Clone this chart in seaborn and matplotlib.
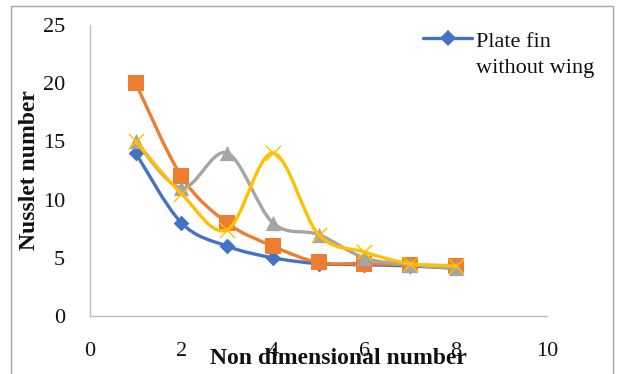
import numpy as np
import pandas as pd
import seaborn as sns
import matplotlib
matplotlib.use("Agg")
import matplotlib.pyplot as plt
from matplotlib.path import Path
from matplotlib.patches import PathPatch, Rectangle
from matplotlib.lines import Line2D

# Data
x_vals = [1, 2, 3, 4, 5, 6, 7, 8]
plate_fin_no_wing = [14, 8, 6, 5, 4.5, 4.4, 4.3, 4.1]
series_orange = [20, 12, 8, 6, 4.6, 4.5, 4.4, 4.3]
series_gray = [15, 11, 14, 8, 7, 5, 4.4, 4.1]
series_yellow = [15, 10.5, 7.4, 14, 7, 5.5, 4.5, 4.3]
x_ticks = [0, 2, 4, 6, 8, 10]
y_ticks = [0, 5, 10, 15, 20, 25]
legend_lines = ["Plate fin", "without wing"]

series = [
    (plate_fin_no_wing, "#4472C4", "D", 8),
    (series_orange, "#ED7D31", "s", 11),
    (series_gray, "#A5A5A5", "^", 11),
    (series_yellow, "#FFC000", "x", 11),
]

sns.set_theme(style="white")
plt.rcParams["font.family"] = ["Liberation Serif", "DejaVu Serif"]

W, H = 617, 374
fig = plt.figure(figsize=(W / 100, H / 100), dpi=100)
ax = fig.add_axes([90 / W, 1 - 316 / H, 457 / W, 291 / H])


def smooth_path(xs, ys):
    """Bezier path through the points, Catmull-Rom style tangents."""
    pts = np.column_stack([xs, ys]).astype(float)
    n = len(pts)
    verts = [pts[0]]
    codes = [Path.MOVETO]
    for i in range(n - 1):
        p0 = pts[i - 1] if i > 0 else pts[i]
        p1 = pts[i]
        p2 = pts[i + 1]
        p3 = pts[i + 2] if i + 2 < n else pts[i + 1]
        c1 = p1 + (p2 - p0) / 6.0
        c2 = p2 - (p3 - p1) / 6.0
        verts += [c1, c2, p2]
        codes += [Path.CURVE4] * 3
    return Path(verts, codes)


z = 2
for ys, color, marker, ms in series:
    patch = PathPatch(smooth_path(x_vals, ys), facecolor="none", edgecolor=color,
                      lw=2.4, zorder=z, capstyle="round", joinstyle="round")
    ax.add_patch(patch)
    df = pd.DataFrame({"x": x_vals, "y": ys})
    if marker == "x":
        sns.scatterplot(data=df, x="x", y="y", ax=ax, marker="x", color=color,
                        s=ms ** 2, linewidth=1.0, zorder=z + 0.5, legend=False)
    else:
        sns.scatterplot(data=df, x="x", y="y", ax=ax, marker=marker, color=color,
                        s=ms ** 2, linewidth=0, zorder=z + 0.5, legend=False)
    z += 1

ax.set_xlim(0, 10)
ax.set_ylim(0, 25)
ax.set_xticks(x_ticks)
ax.set_yticks(y_ticks)
ax.tick_params(axis="x", labelsize=16, pad=19, length=0, labelcolor="#111111")
ax.tick_params(axis="y", labelsize=16, pad=18, length=0, labelcolor="#111111")

for side in ["top", "right"]:
    ax.spines[side].set_visible(False)
for side in ["left", "bottom"]:
    ax.spines[side].set_color("#BFBFBF")
    ax.spines[side].set_linewidth(1.0)

ax.set_xlabel("")
ax.set_ylabel("")
fig.text(338 / W, 1 - 358 / H, "Non dimensional number", ha="center", va="center",
         fontsize=17, fontweight="bold", color="#111111")
fig.text(30 / W, 1 - 170 / H, "Nusslet number", ha="center", va="center",
         rotation=90, fontsize=17, fontweight="bold", color="#111111")

# Legend entry for the first series (handle aligned with the first text line)
fig.add_artist(Line2D([423 / W, 472 / W], [1 - 38 / H, 1 - 38 / H],
                      transform=fig.transFigure, color="#4472C4", lw=2.4))
fig.add_artist(Line2D([448 / W], [1 - 38 / H], transform=fig.transFigure,
                      color="#4472C4", marker="D", markersize=8, markeredgewidth=0))
fig.text(476 / W, 1 - 47 / H, legend_lines[0], ha="left", va="baseline",
         fontsize=16, color="#111111")
fig.text(476 / W, 1 - 73 / H, legend_lines[1], ha="left", va="baseline",
         fontsize=16, color="#111111")

# Chart border
fig.patches.append(Rectangle((11 / W, -0.05), (613 - 11) / W, 1 - 6 / H + 0.05,
                             transform=fig.transFigure, fill=False,
                             edgecolor="#A6A6A6", lw=1.0))

fig.savefig("out.png", dpi=100)
